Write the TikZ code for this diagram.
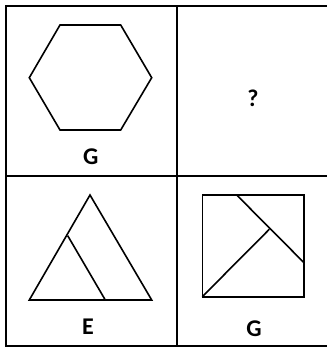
\documentclass[tikz,border=0pt]{standalone}
\usepackage{fontspec}
\setmainfont{Carlito}
\tikzset{
  gridline/.style={line width=2pt, black},
  figline/.style={line width=1.6pt, black, line join=miter},
  lbl/.style={font=\fontsize{24}{28}\selectfont\bfseries, inner sep=0pt, anchor=center}
}
\begin{document}
\begin{tikzpicture}[x=1pt,y=-1pt]
\useasboundingbox (0,0) rectangle (326,347);
% grid
\coordinate (tl) at (6,6);
\coordinate (bl) at (6,346);
\coordinate (tr) at (330,6);
\coordinate (br) at (330,346);
\coordinate (mt) at (176.5,6);
\coordinate (mb) at (176.5,346);
\coordinate (ml) at (6,176);
\coordinate (mr) at (330,176);
\draw[gridline] (tr) -- (tl) -- (bl) -- (br);
\draw[gridline] (mt) -- (mb);
\draw[gridline] (ml) -- (mr);
% hexagon
\draw[figline] (60,25) -- (120.7,25) -- (151.7,77.7) -- (120.7,130) -- (60,130) -- (29.3,77.7) -- cycle;
\node[lbl] (g1) at (90.8,157) {G};
% question mark
\node[lbl] (q) at (253,98) {?};
% triangle
\coordinate (ta) at (90,195);
\coordinate (tb) at (29.3,300);
\coordinate (tc) at (151.7,300);
\coordinate (ti1) at (67.7,235.7);
\coordinate (ti2) at (105.3,300);
\draw[figline] (ta) -- (tb) -- (tc) -- cycle;
\draw[figline] (ti1) -- (ti2);
\node[lbl] (e) at (88,327) {E};
% square
\coordinate (s1) at (202.3,195);
\coordinate (s3) at (304,296.7);
\draw[figline] (s1) rectangle (s3);
\coordinate (sa) at (236.7,195);
\coordinate (sb) at (304,262.7);
\coordinate (sc) at (202.3,296.7);
\coordinate (sd) at (269.3,229.3);
\draw[figline] (sa) -- (sb);
\draw[figline] (sc) -- (sd);
\node[lbl] (g2) at (254,329) {G};
\end{tikzpicture}
\end{document}
